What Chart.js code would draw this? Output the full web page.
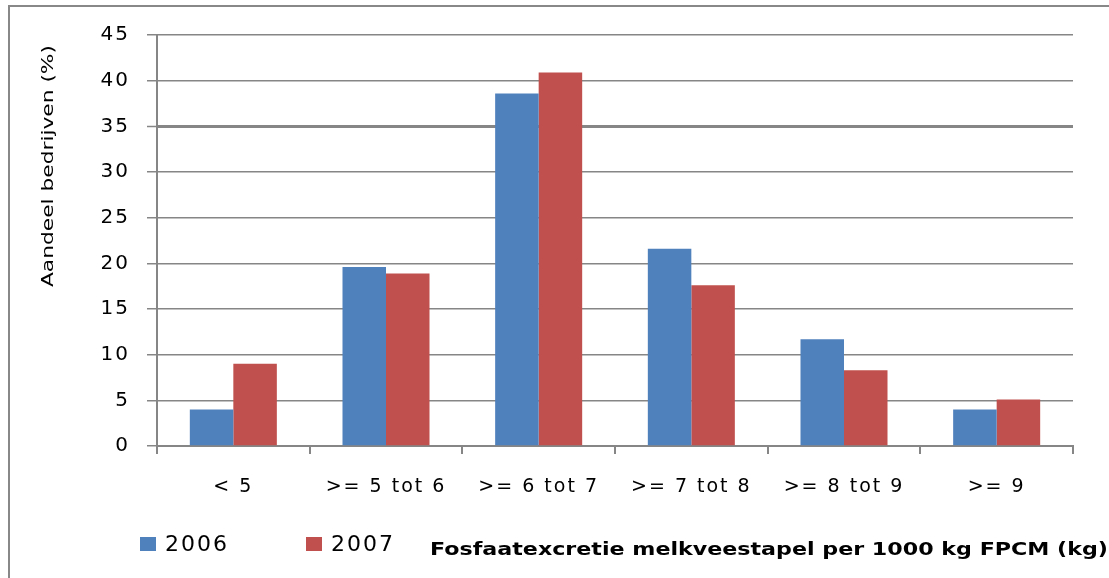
<!DOCTYPE html>
<html>
<head>
<meta charset="utf-8">
<script src="https://cdn.jsdelivr.net/npm/chart.js@4/dist/chart.umd.min.js"></script>
<style>
  body { margin: 0; background: #fff; }
  #wrap { position: relative; width: 1109px; height: 578px; overflow: hidden; }
  #frame { position: absolute; left: 8px; top: 5px; width: 1200px; height: 700px;
           border-top: 2px solid #888; border-left: 2px solid #888; pointer-events: none; }
</style>
</head>
<body>
<div id="wrap">
  <canvas id="myChart" width="1109" height="578"></canvas>
  <div id="frame"></div>
</div>
<script>
const categories = ['< 5', '>= 5 tot 6', '>= 6 tot 7', '>= 7 tot 8', '>= 8 tot 9', '>= 9'];
const values2006 = [4.0, 19.6, 38.6, 21.6, 11.7, 4.0];
const values2007 = [9.0, 18.9, 40.9, 17.6, 8.3, 5.1];
const seriesNames = ['2006', '2007'];
const yMin = 0, yMax = 45, yStep = 5;
const yTitle = 'Aandeel bedrijven (%)';
const xTitle = 'Fosfaatexcretie melkveestapel per 1000 kg FPCM (kg)';

const gridColor = '#868686';

// legend + axis titles drawn by hand, the layout of the original is off-center
const extraText = {
  id: 'extraText',
  beforeDraw(chart) {
    chart.ctx.letterSpacing = '2px';
  },
  afterDraw(chart) {
    const ctx = chart.ctx;

    // y title, rotated
    ctx.save();
    ctx.letterSpacing = '0px';
    ctx.fillStyle = '#000';
    ctx.font = '16.5px "DejaVu Sans"';
    let w = ctx.measureText(yTitle).width;
    ctx.translate(53, 166);
    ctx.rotate(-Math.PI / 2);
    ctx.scale(242 / w, 1);
    ctx.textAlign = 'center';
    ctx.textBaseline = 'alphabetic';
    ctx.fillText(yTitle, 0, 0);
    ctx.restore();

    // legend
    ctx.save();
    ctx.letterSpacing = '2px';
    ctx.font = '22px "DejaVu Sans"';
    ctx.textAlign = 'left';
    ctx.textBaseline = 'alphabetic';
    const legendX = [140, 306];
    chart.data.datasets.forEach(function (ds, i) {
      let x = legendX[i];
      ctx.fillStyle = ds.backgroundColor;
      ctx.fillRect(x, 537, 16, 14);
      ctx.fillStyle = '#000';
      ctx.fillText(ds.label, x + 25, 551);
    });
    ctx.restore();

    // x title
    ctx.save();
    ctx.letterSpacing = '0px';
    ctx.fillStyle = '#000';
    ctx.font = 'bold 17px "DejaVu Sans"';
    w = ctx.measureText(xTitle).width;
    ctx.translate(430, 555);
    ctx.scale(678 / w, 1);
    ctx.textAlign = 'left';
    ctx.textBaseline = 'alphabetic';
    ctx.fillText(xTitle, 0, 0);
    ctx.restore();
  }
};

let chart = new Chart(document.getElementById('myChart').getContext('2d'), {
  type: 'bar',
  data: {
    labels: categories,
    datasets: [{
      label: seriesNames[0],
      data: values2006,
      backgroundColor: '#4F81BD'
    },
    {
      label: seriesNames[1],
      data: values2007,
      backgroundColor: '#C0504D'
    }]
  },
  options: {
    responsive: false,
    animation: false,
    devicePixelRatio: 1,
    layout: { padding: { top: 35, right: 36, bottom: 72, left: 0 } },
    datasets: { bar: { barPercentage: 1, categoryPercentage: 0.57 } },
    plugins: {
      legend: { display: false },
      tooltip: { enabled: false }
    },
    scales: {
      x: {
        afterFit: function (scale) { scale.height = 60; },
        grid: { drawOnChartArea: false, drawTicks: true, tickLength: 8, color: gridColor, lineWidth: 2 },
        border: { display: true, color: gridColor, width: 2 },
        ticks: {
          autoSkip: false, maxRotation: 0, padding: 22, color: '#000',
          font: { family: 'DejaVu Sans', size: 19 }
        }
      },
      y: {
        min: yMin,
        max: yMax,
        afterFit: function (scale) { scale.width = 157; },
        grid: {
          color: gridColor,
          lineWidth: function (c) { return c.tick && c.tick.value === 35 ? 3 : 1.5; },
          tickLength: 10,
          tickWidth: 1.5
        },
        border: { display: true, color: gridColor, width: 2 },
        ticks: {
          stepSize: yStep, padding: 17, color: '#000',
          font: { family: 'DejaVu Sans', size: 20 }
        }
      }
    }
  },
  plugins: [extraText]
});
</script>
</body>
</html>
